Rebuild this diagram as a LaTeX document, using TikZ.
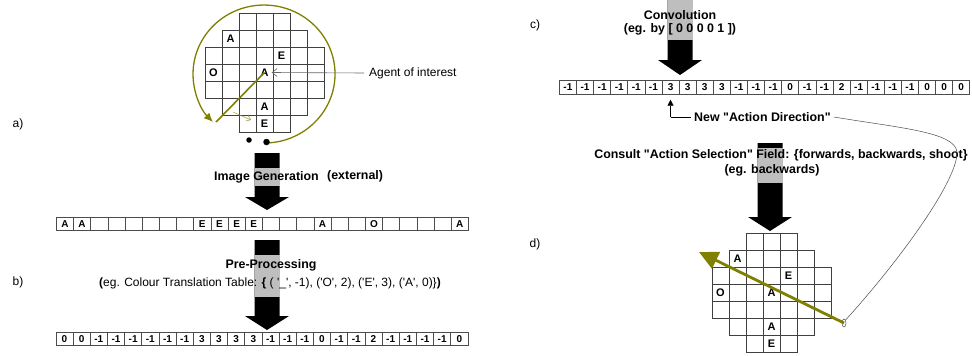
\documentclass[tikz,border=0pt]{standalone}
\usepackage{fontspec}
\newfontfamily\arial{Liberation Sans}
\usetikzlibrary{arrows.meta,shapes.geometric}
\definecolor{oliv}{RGB}{128,128,0}
\definecolor{bandgray}{RGB}{190,190,190}
\newcommand\blockarrow[4]{%
  \fill[black] ({#1-12.5},#2) -- ({#1+12.5},#2) -- ({#1+12.5},#3) -- ({#1+22},#3)
    -- (#1,#4) -- ({#1-22},#3) -- ({#1-12.5},#3) -- cycle;}
\newcommand\agentgrid[2]{%
  \foreach \r/\a/\b in {0/2/4,1/1/5,2/0/6,3/0/6,4/0/6,5/1/5,6/2/4}{
    \foreach \c in {\a,...,\b}{
      \draw[gridline] ({#1+\c*17},{#2+\r*17}) rectangle ++(17,17);
    }}}
\begin{document}
\begin{tikzpicture}[x=1pt,y=-1pt]
\tikzset{
  cellbox/.style={draw=black!70, line width=0.7pt, inner sep=0pt, minimum width=17.17pt,
    minimum height=12.5pt, font=\arial\bfseries\fontsize{10}{10}\selectfont, anchor=north west},
  gridline/.style={draw=black!75, line width=0.5pt},
  letter/.style={font=\arial\bfseries\fontsize{11}{11}\selectfont, inner sep=0pt},
  bigtext/.style={font=\arial\bfseries\fontsize{12.4}{13}\selectfont, inner sep=0pt},
  plaintext/.style={font=\arial\fontsize{12}{13}\selectfont, inner sep=0pt},
  band/.style={fill=bandgray},
}
\useasboundingbox (0,0) rectangle (972,356);
\fill[white] (0,0) rectangle (972,356);

% labels
\node[plaintext] (la) at (18,124) {a)};
\node[plaintext] (lb) at (18,282) {b)};
\node[plaintext] (lc) at (535,25) {c)};
\node[plaintext] (ld) at (535,244) {d)};

% ---------- a) agent view ----------
\agentgrid{205}{13}
\node[letter] (gA1) at ({205+1.5*17},{13+1.5*17}) {A};
\node[letter] (gE1) at ({205+4.5*17},{13+2.5*17}) {E};
\node[letter] (gO1) at ({205+0.5*17},{13+3.5*17}) {O};
\node[letter] (gA2) at ({205+3.5*17},{13+3.5*17}) {A};
\node[letter] (gA3) at ({205+3.5*17},{13+5.5*17}) {A};
\node[letter] (gE2) at ({205+3.5*17},{13+6.5*17}) {E};

\coordinate (arcend) at (216,122);
\draw[oliv, line width=1.3pt, -{Latex[length=9pt,width=8pt]}]
  (266.5,143) arc[start angle=88, end angle=-224, x radius=71, y radius=69];
\draw[oliv, line width=1.6pt] (gA2.center) -- (arcend);
\draw[oliv!80, line width=0.5pt, -{Straight Barb[length=4pt,width=6pt]}] (233,112) -- (251,120);
\node[circle, fill=black, inner sep=0pt, minimum size=5.5pt] (dot1) at (249,140) {};
\node[circle, fill=black, inner sep=0pt, minimum size=6.5pt] (dot2) at (266.5,142) {};

\node[plaintext, anchor=west] (agent) at (369,73) {Agent of interest};
\draw[black!60, line width=0.6pt, -{Straight Barb[length=5pt,width=8pt]}]
  ([xshift=-5pt]agent.west) -- ([xshift=3pt]gA2.east);

% ---------- Image generation arrow ----------
\blockarrow{267}{153}{197}{210}
\fill[band] (254.5,168) rectangle (279.5,186);
\node[bigtext, anchor=east] (imggen) at (319,177) {Image Generation};
\node[bigtext, anchor=west] (ext) at (327,176) {(external)};

% strip a
\foreach \t [count=\i from 0] in {A,A,{},{},{},{},{},{},E,E,E,E,{},{},{},A,{},{},O,{},{},{},{},A}{
  \node[cellbox] (sa\i) at ({56+\i*17.17},217) {\t};
}

% ---------- Pre-processing arrow ----------
\blockarrow{267}{240}{316}{330}
\fill[band] (254.5,255) rectangle (279.5,297);
\node[bigtext] (prep) at (271,265) {Pre-Processing};
\node[plaintext, anchor=west] (colour) at (99,283)
  {\textbf{(}eg. Colour Translation Table: \textbf{\{} ( '\_', -1), ('O', 2), ('E', 3), ('A', 0)\}\textbf{)}};

% strip b
\foreach \t [count=\i from 0] in {0,0,-1,-1,-1,-1,-1,-1,3,3,3,3,-1,-1,-1,0,-1,-1,2,-1,-1,-1,-1,0}{
  \node[cellbox] (sb\i) at ({55.5+\i*17.17},332) {\t};
}

% ---------- c) convolution ----------
\blockarrow{680}{0}{60}{75}
\fill[band] (667.5,0) rectangle (692.5,40);
\node[bigtext] (conv) at (680,15) {Convolution};
\node[bigtext] (convex) at (680,29) {(eg. by [ 0 0 0 0 1 ])};

% strip c
\foreach \t [count=\i from 0] in {-1,-1,-1,-1,-1,-1,3,3,3,3,-1,-1,-1,0,-1,-1,2,-1,-1,-1,-1,0,0,0}{
  \node[cellbox, minimum height=14pt] (sc\i) at ({559+\i*17.1},80) {\t};
}

\coordinate (corner) at (sc6.south |- 0,117);
\draw[black, line width=0.6pt, -{Triangle[length=6pt,width=6pt]}] (corner) -- ([yshift=-5pt]sc6.south);
\node[bigtext, anchor=west] (newad) at (694,117) {New "Action Direction"};
\draw[black, line width=0.6pt] (corner) -- ([xshift=-3pt]newad.west);

% ---------- consult arrow ----------
\blockarrow{770}{143}{217}{231}
\fill[band] (757.5,148) rectangle (782.5,183);
\node[bigtext] (consult) at (781,155) {Consult "Action Selection" Field: \{forwards, backwards, shoot\}};
\node[bigtext] (egb) at (772,170) {(eg. backwards)};

% ---------- d) grid ----------
\agentgrid{712}{233}
\node[letter] (dA1) at ({712+1.5*17},{233+1.5*17}) {A};
\node[letter] (dE1) at ({712+4.5*17},{233+2.5*17}) {E};
\node[letter] (dO1) at ({712+0.5*17},{233+3.5*17}) {O};
\node[letter] (dA2) at ({712+3.5*17},{233+3.5*17}) {A};
\node[letter] (dA3) at ({712+3.5*17},{233+5.5*17}) {A};
\node[letter] (dE2) at ({712+3.5*17},{233+6.5*17}) {E};

\node[draw=black!70, ellipse, line width=0.5pt, inner sep=0pt, minimum width=4pt, minimum height=8pt] (ell) at (844,323) {};
\coordinate (dtip) at (699,252);
\draw[oliv, line width=2.8pt, -{Triangle[length=19pt,width=18pt]}] (ell.center) -- (dtip);

\draw[black!70, line width=0.5pt] ([xshift=3pt]newad.east)
  .. controls (900,128) and (955,132) .. (957,152)
  .. controls (958,180) and (900,260) .. (ell.north east);
\end{tikzpicture}
\end{document}
